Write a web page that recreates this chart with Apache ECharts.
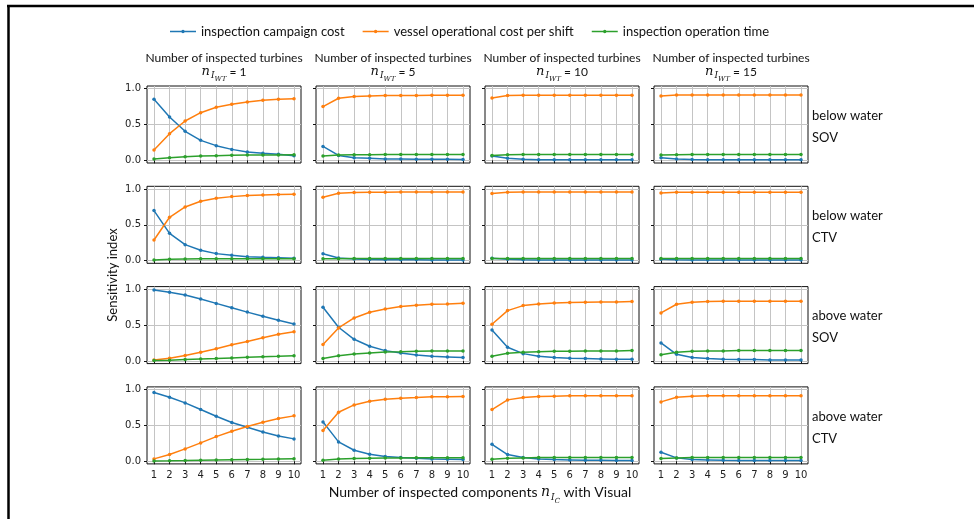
<!DOCTYPE html>
<html><head><meta charset="utf-8">
<script src="https://cdn.jsdelivr.net/npm/echarts@6/dist/echarts.min.js"></script>
<style>html,body{margin:0;padding:0;background:#fff}#c{width:974px;height:519px}</style>
</head><body><div id="c"></div><script>
// ---------- data ----------
const xValues = [1, 2, 3, 4, 5, 6, 7, 8, 9, 10];
const yTickValues = [0, 0.5, 1];
const turbineCounts = [1, 5, 10, 15];
const seriesNames = ['inspection campaign cost', 'vessel operational cost per shift', 'inspection operation time'];
const rowLabels = [['below water', 'SOV'], ['below water', 'CTV'], ['above water', 'SOV'], ['above water', 'CTV']];

// below water, SOV
const bwSOV_n1_campaign = [0.851, 0.605, 0.405, 0.279, 0.205, 0.153, 0.116, 0.098, 0.084, 0.065];
const bwSOV_n1_vessel   = [0.144, 0.372, 0.549, 0.665, 0.740, 0.781, 0.814, 0.837, 0.851, 0.860];
const bwSOV_n1_time     = [0.020, 0.037, 0.050, 0.060, 0.065, 0.070, 0.074, 0.075, 0.076, 0.077];
const bwSOV_n5_campaign = [0.194, 0.069, 0.037, 0.028, 0.019, 0.018, 0.017, 0.015, 0.014, 0.013];
const bwSOV_n5_vessel   = [0.750, 0.866, 0.889, 0.898, 0.903, 0.904, 0.906, 0.907, 0.907, 0.907];
const bwSOV_n5_time     = [0.060, 0.073, 0.078, 0.079, 0.080, 0.080, 0.080, 0.080, 0.080, 0.080];
const bwSOV_n10_campaign = [0.060, 0.028, 0.014, 0.010, 0.008, 0.008, 0.008, 0.008, 0.008, 0.008];
const bwSOV_n10_vessel   = [0.870, 0.903, 0.907, 0.907, 0.908, 0.908, 0.908, 0.908, 0.908, 0.908];
const bwSOV_n10_time     = [0.069, 0.079, 0.080, 0.080, 0.080, 0.080, 0.080, 0.080, 0.080, 0.080];
const bwSOV_n15_campaign = [0.037, 0.019, 0.012, 0.010, 0.009, 0.008, 0.008, 0.008, 0.008, 0.008];
const bwSOV_n15_vessel   = [0.898, 0.912, 0.912, 0.912, 0.912, 0.912, 0.912, 0.912, 0.912, 0.912];
const bwSOV_n15_time     = [0.074, 0.079, 0.080, 0.080, 0.080, 0.080, 0.080, 0.080, 0.080, 0.080];

// below water, CTV
const bwCTV_n1_campaign = [0.698, 0.381, 0.223, 0.144, 0.098, 0.074, 0.056, 0.047, 0.042, 0.033];
const bwCTV_n1_vessel   = [0.288, 0.605, 0.749, 0.828, 0.870, 0.893, 0.907, 0.916, 0.921, 0.926];
const bwCTV_n1_time     = [0.010, 0.020, 0.023, 0.025, 0.025, 0.026, 0.026, 0.026, 0.027, 0.027];
const bwCTV_n5_campaign = [0.097, 0.037, 0.022, 0.017, 0.014, 0.012, 0.011, 0.010, 0.010, 0.010];
const bwCTV_n5_vessel   = [0.884, 0.940, 0.949, 0.953, 0.955, 0.956, 0.956, 0.956, 0.956, 0.956];
const bwCTV_n5_time     = [0.025, 0.028, 0.029, 0.030, 0.030, 0.030, 0.030, 0.030, 0.030, 0.030];
const bwCTV_n10_campaign = [0.032, 0.018, 0.012, 0.010, 0.009, 0.009, 0.009, 0.009, 0.009, 0.009];
const bwCTV_n10_vessel   = [0.935, 0.954, 0.956, 0.956, 0.956, 0.956, 0.956, 0.956, 0.956, 0.956];
const bwCTV_n10_time     = [0.030, 0.030, 0.030, 0.030, 0.030, 0.030, 0.030, 0.030, 0.030, 0.030];
const bwCTV_n15_campaign = [0.020, 0.012, 0.010, 0.009, 0.008, 0.008, 0.008, 0.008, 0.008, 0.008];
const bwCTV_n15_vessel   = [0.944, 0.954, 0.955, 0.955, 0.955, 0.955, 0.955, 0.955, 0.955, 0.955];
const bwCTV_n15_time     = [0.030, 0.030, 0.030, 0.030, 0.030, 0.030, 0.030, 0.030, 0.030, 0.030];

// above water, SOV
const awSOV_n1_campaign = [0.990, 0.958, 0.920, 0.864, 0.803, 0.742, 0.681, 0.624, 0.568, 0.516];
const awSOV_n1_vessel   = [0.014, 0.038, 0.075, 0.122, 0.169, 0.225, 0.272, 0.324, 0.371, 0.408];
const awSOV_n1_time     = [0.005, 0.010, 0.020, 0.028, 0.034, 0.042, 0.050, 0.057, 0.064, 0.073];
const awSOV_n5_campaign = [0.749, 0.470, 0.302, 0.205, 0.144, 0.112, 0.084, 0.065, 0.056, 0.047];
const awSOV_n5_vessel   = [0.228, 0.460, 0.600, 0.679, 0.726, 0.758, 0.777, 0.791, 0.795, 0.805];
const awSOV_n5_time     = [0.033, 0.074, 0.098, 0.112, 0.126, 0.130, 0.135, 0.140, 0.140, 0.140];
const awSOV_n10_campaign = [0.433, 0.191, 0.102, 0.065, 0.047, 0.037, 0.033, 0.028, 0.023, 0.023];
const awSOV_n10_vessel   = [0.512, 0.702, 0.772, 0.795, 0.809, 0.814, 0.819, 0.823, 0.823, 0.828];
const awSOV_n10_time     = [0.065, 0.107, 0.121, 0.130, 0.135, 0.135, 0.140, 0.140, 0.140, 0.144];
const awSOV_n15_campaign = [0.251, 0.093, 0.047, 0.033, 0.023, 0.019, 0.019, 0.014, 0.014, 0.014];
const awSOV_n15_vessel   = [0.670, 0.791, 0.819, 0.828, 0.833, 0.833, 0.833, 0.833, 0.833, 0.833];
const awSOV_n15_time     = [0.088, 0.121, 0.135, 0.140, 0.140, 0.144, 0.144, 0.144, 0.144, 0.144];

// above water, CTV
const awCTV_n1_campaign = [0.958, 0.893, 0.814, 0.721, 0.628, 0.540, 0.474, 0.409, 0.353, 0.312];
const awCTV_n1_vessel   = [0.033, 0.093, 0.172, 0.256, 0.344, 0.419, 0.484, 0.544, 0.595, 0.633];
const awCTV_n1_time     = [0.005, 0.007, 0.010, 0.014, 0.018, 0.022, 0.026, 0.028, 0.032, 0.034];
const awCTV_n5_campaign = [0.549, 0.270, 0.153, 0.098, 0.065, 0.051, 0.042, 0.033, 0.028, 0.023];
const awCTV_n5_vessel   = [0.428, 0.684, 0.786, 0.837, 0.865, 0.879, 0.888, 0.898, 0.898, 0.902];
const awCTV_n5_time     = [0.014, 0.033, 0.037, 0.042, 0.047, 0.047, 0.048, 0.049, 0.050, 0.050];
const awCTV_n10_campaign = [0.237, 0.093, 0.051, 0.033, 0.023, 0.019, 0.014, 0.014, 0.010, 0.010];
const awCTV_n10_vessel   = [0.721, 0.856, 0.888, 0.902, 0.907, 0.912, 0.912, 0.912, 0.912, 0.912];
const awCTV_n10_time     = [0.028, 0.042, 0.047, 0.051, 0.051, 0.052, 0.052, 0.053, 0.053, 0.053];
const awCTV_n15_campaign = [0.126, 0.047, 0.023, 0.019, 0.014, 0.012, 0.011, 0.010, 0.010, 0.010];
const awCTV_n15_vessel   = [0.828, 0.893, 0.907, 0.912, 0.912, 0.912, 0.912, 0.912, 0.912, 0.912];
const awCTV_n15_time     = [0.037, 0.047, 0.051, 0.053, 0.053, 0.053, 0.053, 0.053, 0.053, 0.053];

// panels[row][col] = [campaign, vessel, time]
const panels = [
  [[bwSOV_n1_campaign, bwSOV_n1_vessel, bwSOV_n1_time], [bwSOV_n5_campaign, bwSOV_n5_vessel, bwSOV_n5_time],
   [bwSOV_n10_campaign, bwSOV_n10_vessel, bwSOV_n10_time], [bwSOV_n15_campaign, bwSOV_n15_vessel, bwSOV_n15_time]],
  [[bwCTV_n1_campaign, bwCTV_n1_vessel, bwCTV_n1_time], [bwCTV_n5_campaign, bwCTV_n5_vessel, bwCTV_n5_time],
   [bwCTV_n10_campaign, bwCTV_n10_vessel, bwCTV_n10_time], [bwCTV_n15_campaign, bwCTV_n15_vessel, bwCTV_n15_time]],
  [[awSOV_n1_campaign, awSOV_n1_vessel, awSOV_n1_time], [awSOV_n5_campaign, awSOV_n5_vessel, awSOV_n5_time],
   [awSOV_n10_campaign, awSOV_n10_vessel, awSOV_n10_time], [awSOV_n15_campaign, awSOV_n15_vessel, awSOV_n15_time]],
  [[awCTV_n1_campaign, awCTV_n1_vessel, awCTV_n1_time], [awCTV_n5_campaign, awCTV_n5_vessel, awCTV_n5_time],
   [awCTV_n10_campaign, awCTV_n10_vessel, awCTV_n10_time], [awCTV_n15_campaign, awCTV_n15_vessel, awCTV_n15_time]]
];

// ---------- layout / style ----------
const colors = ['#1f77b4', '#ff7f0e', '#2ca02c'];
const GX0 = 147, GDX = 169, GW = 154;
const GY0 = 86, GDY = 100.3, GH = 77;
const TXT = 'Lato, "Open Sans", sans-serif';
const TICKF = '"DejaVu Sans", sans-serif';
const MATH = '"DejaVu Serif", serif';
const LEGEND_ICON = 'path://M0,4.25H11.3V5.75H0Z M14.7,4.25H26V5.75H14.7Z M11.2,5A1.8,1.8 0 1,1 14.8,5A1.8,1.8 0 1,1 11.2,5Z';

const grids = [], xAxes = [], yAxes = [], series = [], graphics = [];
for (let r = 0; r < 4; r++) {
  for (let c = 0; c < 4; c++) {
    const i = r * 4 + c;
    grids.push({ left: GX0 + c * GDX, top: GY0 + r * GDY, width: GW, height: GH,
      show: true, borderColor: '#111', borderWidth: 1, backgroundColor: 'transparent' });
    xAxes.push({ type: 'value', gridIndex: i, min: 0.55, max: 10.45,
      axisLine: { show: false },
      axisTick: { show: true, customValues: xValues, length: 3, lineStyle: { color: '#111' } },
      axisLabel: { show: r === 3, customValues: xValues, fontSize: 10, color: '#222', margin: 7, fontFamily: TICKF },
      splitLine: { show: true, lineStyle: { color: '#c4c4c4', width: 1 } } });
    yAxes.push({ type: 'value', gridIndex: i, min: -0.037, max: 1.037,
      axisLine: { show: false },
      axisTick: { show: true, customValues: yTickValues, length: 3, lineStyle: { color: '#111' } },
      axisLabel: { show: c === 0, customValues: yTickValues, fontSize: 10, color: '#222', margin: 6, fontFamily: TICKF,
        formatter: v => v.toFixed(1) },
      splitLine: { show: true, lineStyle: { color: '#c4c4c4', width: 1 } } });
    for (let s = 0; s < 3; s++) {
      series.push({ type: 'line', name: seriesNames[s], xAxisIndex: i, yAxisIndex: i,
        data: xValues.map((x, k) => [x, panels[r][c][s][k]]),
        symbol: 'circle', symbolSize: 3.5, showSymbol: true,
        lineStyle: { width: 1.5, color: colors[s] }, itemStyle: { color: colors[s] },
        z: 2 + s, animation: false, silent: true });
    }
  }
}

// column titles
for (let c = 0; c < 4; c++) {
  const cx = GX0 + c * GDX + GW / 2;
  graphics.push({ type: 'text', x: cx, y: 58, style: { text: 'Number of inspected turbines', fill: '#111',
    font: '12px ' + TXT, align: 'center', verticalAlign: 'middle' } });
  graphics.push({ type: 'text', x: cx, y: 74, style: {
    text: '{n|n}{s|I}{ss|WT}{e| = ' + turbineCounts[c] + '}', align: 'center', verticalAlign: 'middle', fill: '#111',
    rich: {
      n: { fontFamily: MATH, fontStyle: 'italic', fontSize: 13, verticalAlign: 'top', padding: [0, 0, 0, 0], fill: '#111' },
      s: { fontFamily: MATH, fontStyle: 'italic', fontSize: 9, verticalAlign: 'top', padding: [6, 0, 0, 1], fill: '#111' },
      ss: { fontFamily: MATH, fontStyle: 'italic', fontSize: 7, verticalAlign: 'top', padding: [10, 0, 0, 0], fill: '#111' },
      e: { fontFamily: TXT, fontSize: 12, verticalAlign: 'top', padding: [1, 0, 0, 0], fill: '#111' }
    } } });
}
// row labels
for (let r = 0; r < 4; r++) {
  const cy = GY0 + r * GDY + GH / 2;
  graphics.push({ type: 'text', x: 812, y: cy - 9, style: { text: rowLabels[r][0], fill: '#111',
    font: '13px ' + TXT, align: 'left', verticalAlign: 'middle' } });
  graphics.push({ type: 'text', x: 812, y: cy + 13, style: { text: rowLabels[r][1], fill: '#111',
    font: '13px ' + TXT, align: 'left', verticalAlign: 'middle' } });
}
// y title
graphics.push({ type: 'text', x: 113, y: 275, rotation: Math.PI / 2, style: { text: 'Sensitivity index', fill: '#111',
  font: '13px ' + TXT, align: 'center', verticalAlign: 'middle' } });
// x title
graphics.push({ type: 'text', x: 480, y: 495, style: {
  text: '{t|Number of inspected components }{n|n}{s|I}{ss|C}{t| with Visual}', align: 'center', verticalAlign: 'middle', fill: '#111',
  rich: {
    t: { fontFamily: TXT, fontSize: 14, verticalAlign: 'top', padding: [0, 0, 0, 0], fill: '#111' },
    n: { fontFamily: MATH, fontStyle: 'italic', fontSize: 14, verticalAlign: 'top', padding: [0, 0, 0, 0], fill: '#111' },
    s: { fontFamily: MATH, fontStyle: 'italic', fontSize: 9, verticalAlign: 'top', padding: [8, 0, 0, 1], fill: '#111' },
    ss: { fontFamily: MATH, fontStyle: 'italic', fontSize: 7, verticalAlign: 'top', padding: [12, 0, 0, 0], fill: '#111' }
  } } });
// frame lines
graphics.push({ type: 'line', shape: { x1: 7, y1: 6, x2: 974, y2: 6 }, style: { stroke: '#000', lineWidth: 2.5 } });
graphics.push({ type: 'line', shape: { x1: 8.5, y1: 5, x2: 8.5, y2: 519 }, style: { stroke: '#000', lineWidth: 2.5 } });

const chart = echarts.init(document.getElementById('c'), null, { renderer: 'canvas' });
chart.setOption({
  backgroundColor: '#fff',
  animation: false,
  color: colors,
  legend: { data: seriesNames.map(n => ({ name: n, icon: LEGEND_ICON })), top: 20, left: 165,
    itemWidth: 26, itemHeight: 10, itemGap: 18,
    textStyle: { fontFamily: TXT, fontSize: 13, color: '#111' } },
  grid: grids, xAxis: xAxes, yAxis: yAxes, series: series, graphic: graphics
});
</script></body></html>
